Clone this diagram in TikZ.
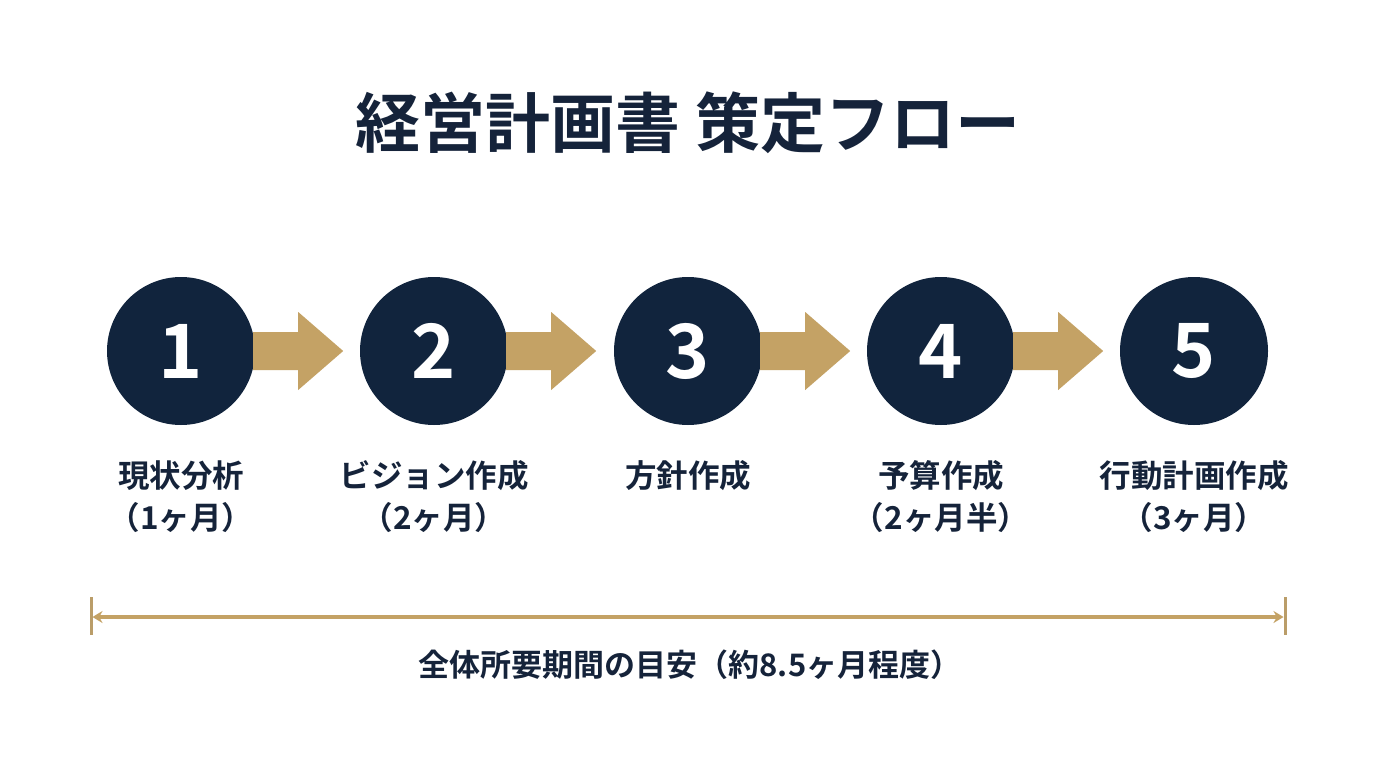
\documentclass[tikz,border=0pt]{standalone}
\usepackage{fontspec}
\setmainfont{Noto Sans CJK JP}[BoldFont={Noto Sans CJK JP Bold}]
\usetikzlibrary{arrows.meta,calc}
\definecolor{navy}{HTML}{11243D}
\definecolor{gold}{HTML}{C4A265}
\definecolor{ink}{HTML}{15233A}
\tikzset{
  stepcircle/.style={circle,fill=navy,minimum size=148pt,inner sep=0pt,text=white,font=\fontsize{75}{80}\selectfont\bfseries},
  steplabel/.style={text=ink,font=\fontsize{31.5}{42}\selectfont\bfseries,align=center,anchor=north},
  fatarrow/.style={fill=gold},
  timeline/.style={draw=gold,line width=3.2pt},
  tickmark/.style={draw=gold!85!gray,line width=3pt}
}
\begin{document}
\begin{tikzpicture}[x=1pt,y=-1pt]
\fill[white] (0,0) rectangle (1376,768);
\useasboundingbox (0,0) rectangle (1376,768);

\node[text=ink,font=\fontsize{65}{70}\selectfont\bfseries] (title) at (688,123) {経営計画書 策定フロー};

\foreach \i/\x in {1/181,2/434,3/688,4/941,5/1194}{
  \node[stepcircle] (c\i) at (\x,351) {\i};
}
\foreach \i/\j in {1/2,2/3,3/4,4/5}{
  \fill[fatarrow] (c\i.east) ++(-2,-19) -- ++(45,0) -- ++(0,-20) -- ++(45,39) -- ++(-45,39) -- ++(0,-20) -- ++(-45,0) -- cycle;
}

\node[steplabel] (l1) at (181,457) {現状分析\\（1ヶ月）};
\node[steplabel] (l2) at (434,457) {ビジョン作成\\（2ヶ月）};
\node[steplabel] (l3) at (688,457) {方針作成};
\node[steplabel] (l4) at (941,457) {予算作成\\（2ヶ月半）};
\node[steplabel] (l5) at (1194,457) {行動計画作成\\（3ヶ月）};

\coordinate (tl) at (91,617);
\coordinate (tr) at (1285,617);
\draw[tickmark] (tl) ++(0,-20) -- ++(0,38);
\draw[tickmark] (tr) ++(0,-20) -- ++(0,38);
\draw[timeline,{Stealth[length=10pt,width=12pt]}-{Stealth[length=10pt,width=12pt]},shorten <=1.5pt,shorten >=1.5pt] (tl) -- (tr);

\node[text=ink,font=\fontsize{31}{36}\selectfont\bfseries] (total) at (690,665) {全体所要期間の目安（約8.5ヶ月程度）};
\end{tikzpicture}
\end{document}
